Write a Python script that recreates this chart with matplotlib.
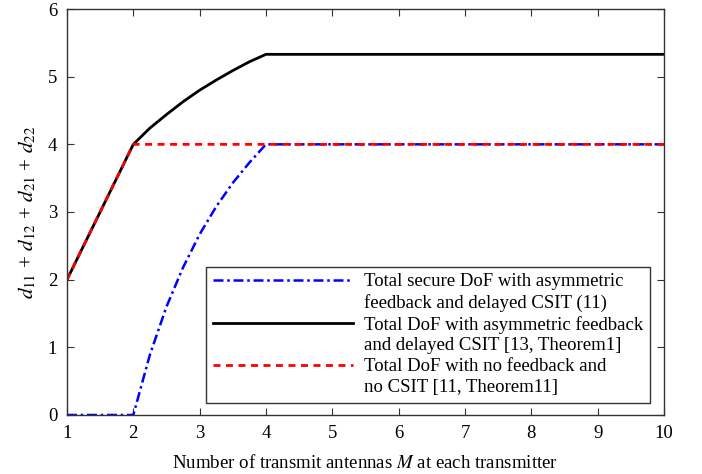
import matplotlib
matplotlib.use('Agg')
import matplotlib.pyplot as plt
from matplotlib.lines import Line2D

plt.rcParams['font.family'] = ['Liberation Serif', 'DejaVu Serif']
plt.rcParams['mathtext.fontset'] = 'stix'

# values
M_secure = [1, 2, 2.25, 2.5, 2.75, 3, 3.25, 3.5, 3.75, 4, 10]
dof_secure = [0, 0, 0.89, 1.6, 2.18, 2.67, 3.08, 3.43, 3.73, 4, 4]

M_delayed = [1, 2, 2.25, 2.5, 2.75, 3, 3.25, 3.5, 3.75, 4, 10]
dof_delayed = [2, 4, 4.24, 4.44, 4.63, 4.8, 4.95, 5.09, 5.22, 5.33, 5.33]

M_nocsit = [1, 2, 10]
dof_nocsit = [2, 4, 4]

labels = [
    ['Total secure DoF with asymmetric', 'feedback and delayed CSIT (11)'],
    ['Total DoF with asymmetric feedback', 'and delayed CSIT [13, Theorem1]'],
    ['Total DoF with no feedback and', 'no CSIT [11, Theorem11]'],
]

fig = plt.figure(figsize=(7.02, 4.74), dpi=100)
ax = fig.add_axes([0.0954, 0.1245, 0.8504, 0.8565])

l1, = ax.plot(M_secure, dof_secure, color='blue', lw=1.8,
              dashes=(4, 1.5, 1, 1.5))
l2, = ax.plot(M_delayed, dof_delayed, color='black', lw=2)
l3, = ax.plot(M_nocsit, dof_nocsit, color='red', lw=2, dashes=(2.5, 2))

ax.set_xlim(1, 10)
ax.set_ylim(0, 6)
ax.set_xticks(range(1, 11))
ax.set_yticks(range(0, 7))
ax.tick_params(direction='in', top=True, right=True, labelsize=13.5,
               length=5, color='#333333', pad=7)
for s in ax.spines.values():
    s.set_color('#333333')
    s.set_linewidth(1)

ax.set_xlabel('Number of transmit antennas $M$ at each transmitter',
              fontsize=13.6, labelpad=9)
ax.set_ylabel('$d_{11}$ + $d_{12}$ + $d_{21}$ + $d_{22}$', fontsize=15.2,
              labelpad=7)

# handles sit on the first line of each two-line label, as in the original
blank = Line2D([], [], linestyle='none')
handles = [l1, blank, l2, blank, l3, blank]
texts = [labels[0][0], labels[0][1], labels[1][0], labels[1][1],
         labels[2][0], labels[2][1]]
leg = ax.legend(handles, texts, loc='lower right',
                bbox_to_anchor=(0.977, 0.03), borderaxespad=0,
                fontsize=13.5, handlelength=7.5, handletextpad=0.6,
                labelspacing=0.2, borderpad=0.35, fancybox=False,
                framealpha=1, edgecolor='#333333')
leg.get_frame().set_linewidth(1)

fig.savefig('out.png', dpi=100)
